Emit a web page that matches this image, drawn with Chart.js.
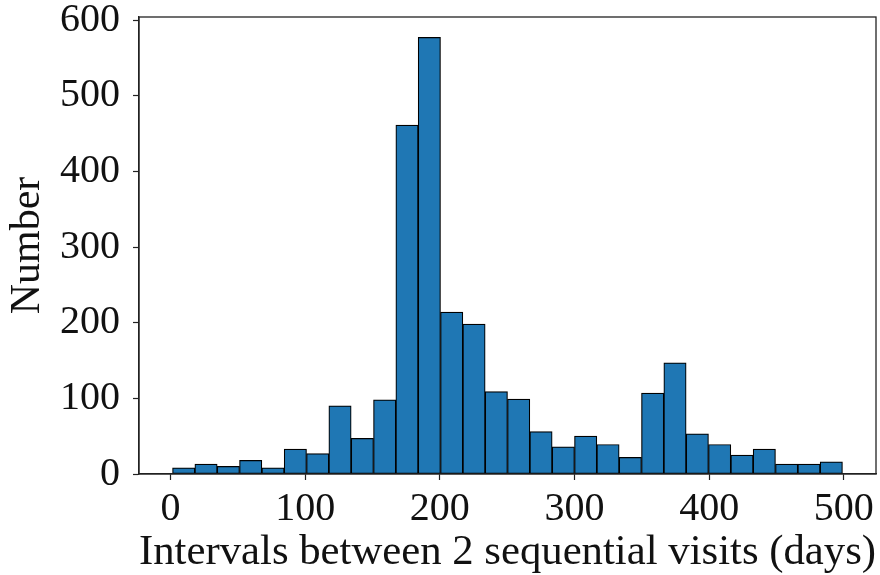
<!DOCTYPE html>
<html>
<head>
<meta charset="utf-8">
<script src="https://cdn.jsdelivr.net/npm/chart.js@4"></script>
<style>
    html, body { margin: 0; padding: 0; background: #fff; }
    #wrap { width: 880px; height: 575px; }
</style>
</head>
<body>
<div id="wrap"><canvas id="hist" width="880" height="575"></canvas></div>
<script>
// days between two sequential visits, 30 equal-width bins
var binStart = 1.5;
var binEnd = 499;
var counts = [8, 13, 10, 18, 8, 33, 27, 90, 47, 98, 461, 577, 214, 198, 109,
              99, 56, 36, 50, 39, 22, 107, 147, 53, 39, 25, 33, 13, 13, 16];
var xTicks = [0, 100, 200, 300, 400, 500];
var yTicks = [0, 100, 200, 300, 400, 500, 600];

var serif = '"Liberation Serif", "Times New Roman", serif';
var binWidth = (binEnd - binStart) / counts.length;
var points = counts.map(function (c, i) {
    return { x: binStart + binWidth * (i + 0.5), y: c };
});

// closed box around the plot area, like a matplotlib axes frame
var frame = {
    id: 'frame',
    afterDraw: function (chart) {
        var a = chart.chartArea, ctx = chart.ctx;
        ctx.save();
        ctx.strokeStyle = '#222';
        ctx.lineWidth = 1.3;
        ctx.strokeRect(a.left, a.top, a.right - a.left, a.bottom - a.top);
        ctx.restore();
    }
};

function fixedTicks(list) {
    return function (scale) {
        scale.ticks = list.map(function (v) { return { value: v }; });
    };
}

var ctx = document.getElementById('hist').getContext('2d');
var chart = new Chart(ctx, {
    type: 'bar',
    data: {
        datasets: [{
            label: 'Number',
            data: points,
            backgroundColor: '#1f77b4',
            borderColor: '#000',
            borderWidth: 1.2,
            borderSkipped: false,
            barPercentage: 1,
            categoryPercentage: 1
        }]
    },
    plugins: [frame],
    options: {
        responsive: false,
        animation: false,
        devicePixelRatio: 1,
        layout: { padding: { top: 17, right: 4, bottom: 0, left: 0 } },
        plugins: {
            legend: { display: false },
            tooltip: { enabled: false }
        },
        scales: {
            x: {
                type: 'linear',
                min: -23.4,
                max: 523.9,
                offset: false,
                afterBuildTicks: fixedTicks(xTicks),
                afterFit: function (scale) {
                    scale.height = 101;
                    scale.paddingLeft = 0;
                    scale.paddingRight = 0;
                },
                grid: {
                    display: true,
                    offset: false,
                    drawOnChartArea: false,
                    drawTicks: true,
                    tickLength: 6,
                    tickColor: '#222',
                    tickWidth: 1.2
                },
                border: { display: true, color: '#222', width: 1.3 },
                ticks: {
                    color: '#111',
                    padding: 5,
                    maxRotation: 0,
                    font: { family: serif, size: 40 },
                    callback: function (v) { return String(v); }
                },
                title: {
                    display: true,
                    text: 'Intervals between 2 sequential visits (days)',
                    color: '#111',
                    padding: 0,
                    font: { family: serif, size: 43, lineHeight: 1.05 }
                }
            },
            y: {
                min: 0,
                max: 604,
                afterBuildTicks: fixedTicks(yTicks),
                afterFit: function (scale) {
                    scale.width = 139;
                    scale.paddingTop = 0;
                    scale.paddingBottom = 0;
                },
                grid: {
                    display: true,
                    drawOnChartArea: false,
                    drawTicks: true,
                    tickLength: 6,
                    tickColor: '#222',
                    tickWidth: 1.2
                },
                border: { display: true, color: '#222', width: 1.3 },
                ticks: {
                    color: '#111',
                    padding: 13,
                    font: { family: serif, size: 40 },
                    callback: function (v) { return String(v); }
                },
                title: {
                    display: true,
                    text: 'Number',
                    color: '#111',
                    padding: { top: 3, bottom: 0 },
                    font: { family: serif, size: 42 }
                }
            }
        }
    }
});
</script>
</body>
</html>
